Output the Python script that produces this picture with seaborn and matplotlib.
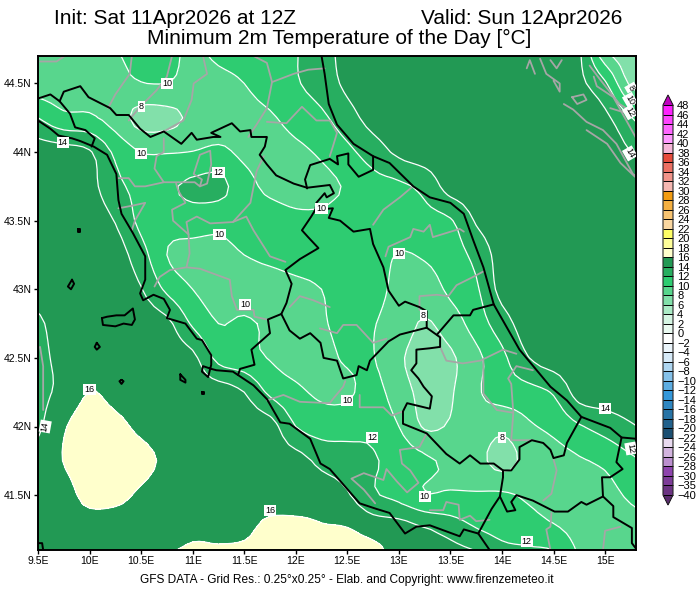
import numpy as np
import seaborn as sns
import matplotlib
matplotlib.use('Agg')
import matplotlib.pyplot as plt
from matplotlib.colors import ListedColormap, BoundaryNorm

# Grid of the field, 0.25 deg
lons = [9.5 + 0.25 * i for i in range(25)]
lats = [44.75 - 0.25 * j for j in range(16)]

t_4475 = [9.0,9.2,9.6,10.0,10.4,10.4,9.8,10.4,10.8,11.2,11.9,13.3,14.6,15,15,15,15,15,15,15,15,14.3,7.9,6.5,6.0]
t_4450 = [8.9,9.0,9.2,9.5,9.95,10.0,9.4,9.6,10.0,10.8,11.8,12.9,14.4,15,15,15,15,15,15,15,15,14.4,12.3,7.6,6.8]
t_4425 = [12.0,10.5,10.3,9.1,7.3,7.4,8.4,9.0,9.5,9.8,10.7,11.6,13.2,14.7,15,15,15,15,15,15,15,15,14.4,12.1,10]
t_4400 = [15,14.8,14.2,11.6,10.0,9.9,10.05,10.4,9.6,9.3,9.6,10.3,11.5,13.0,14.4,15,15,15,15,15,15,15,15,14,12.5]
t_4375 = [15,15,14.6,12.6,11.4,11.7,12.4,12.6,10.8,9.5,9.1,9.5,10.2,11.2,11.6,12.6,14.8,15,15,15,15,15,15,15,15]
t_4350 = [15,15,15,13.9,11.5,10.9,11,10.6,10.9,11,10.5,10.4,10.8,11,11,11.3,11.8,14.2,15,15,15,15,15,15,15]
t_4325 = [15,15,15,14.9,12.8,10,9.3,9.4,10,10.5,10.9,11,11,10.8,9.9,10.2,11,12.6,14.8,15,15,15,15,15,15]
t_4300 = [15,15,15,15,14.1,11.6,10,9.3,9,9,9.4,10,10.8,10.6,9.5,9.1,10.4,11.7,14.6,15,15,15,15,15,15]
t_4275 = [13.6,15,15,15,15,14.5,11.7,10,10.3,9.6,9.1,9.8,10.5,10.1,9.1,7.8,9,10.9,13.1,14.9,15,15,15,15,15]
t_4250 = [13.5,14.5,15,15,15,15,14.5,11.4,10.7,9.9,9.3,9.5,10.2,10.1,8.3,7.3,7.7,9.5,11.5,13.9,15,15,15,15,15]
t_4225 = [13.5,14.5,16.05,15.4,15,15,15,15,14,11.6,10.4,9.7,9.7,10.7,8.9,7.5,7.8,9.7,10.9,11.3,12.2,14.8,15,15,15]
t_4200 = [13.6,15.8,17,16.5,15.6,15,15,15,15,14.8,12,11.1,11.2,11.5,10,7.8,8.2,9.2,8.5,9.7,10.5,11.8,12.8,13.8,14.5]
t_4175 = [15,16.05,17,17,16.6,15.6,15,15,15,15,14.8,13.5,13,12.2,11.3,10.4,9.5,8.7,7.3,8.6,9.2,9.8,10.4,11.6,12.5]
t_4150 = [15,15.3,16.6,16.5,15.7,15,15,15,15,15,15,15,14.2,12.3,11.4,10.1,10.2,10.2,10.3,9.7,9.2,9.3,9.4,10.3,11]
t_4125 = [15,15,15,15,15,15.1,15.6,15.6,15.6,16.6,16.6,16.2,16.1,15.4,15,14.2,13.3,12.1,11.4,11,10.3,9.4,9,9.3,9.7]
t_4100 = [15,15,15,15.3,15.5,16.3,16.8,16.6,17,17,17,17,17,17,15.4,15.2,15.4,15.2,13.4,13.2,13.2,10,9,9.2,9.5]

# Colour scale
levels = [-40, -35, -30, -28, -26, -24, -22, -20, -18, -16, -14, -12, -10, -8, -6, -4, -2,
          0, 2, 4, 6, 8, 10, 12, 14, 16, 18, 20, 22, 24, 26, 28, 30, 32, 34, 36, 38, 40, 42, 44, 46, 48]
colors = ['#6c3483', '#7d3c98', '#8e44ad', '#bb8fce', '#d2b4de', '#e8daef', '#1b4f72', '#21618c',
          '#2874a6', '#2e86c1', '#3498db', '#5dade2', '#85c1e9', '#aed6f1', '#d6eaf8', '#ebf5fb',
          '#ffffff', '#eafaf1', '#d5f5e3', '#abebc6', '#82e0aa', '#58d68d', '#2ecc71', '#27ae60',
          '#229954', '#ffffcc', '#ffff99', '#ffff66', '#fad7a0', '#f8c471', '#f5b041', '#f39c12',
          '#f5b7b1', '#f1948a', '#ec7063', '#e74c3c', '#f5b7d8', '#ff99ff', '#ff66ff', '#ff44ff', '#ff22ff']
color_under = '#5b2c6f'
color_over = '#c000c0'

# Contour labels: text, lon, lat, rotation
contour_labels = [
    ('10', 10.75, 44.50, 0), ('8', 10.50, 44.33, 0), ('10', 10.50, 43.99, 0), ('14', 9.74, 44.07, 0),
    ('12', 11.25, 43.85, 0), ('10', 11.26, 43.40, 0), ('10', 11.51, 42.89, 0), ('10', 12.25, 43.59, 0),
    ('10', 13.0, 43.26, 0), ('16', 10.0, 42.27, 0), ('14', 9.57, 42.0, 80), ('10', 12.50, 42.19, 0),
    ('8', 13.24, 42.81, 0), ('12', 12.74, 41.92, 0), ('10', 13.25, 41.49, 0), ('8', 14.0, 41.92, 0),
    ('14', 15.0, 42.13, 0), ('12', 15.25, 41.84, -80), ('12', 14.24, 41.16, 0), ('16', 11.75, 41.39, 0),
    ('8', 15.25, 44.47, -60), ('10', 15.24, 44.38, -60), ('12', 15.24, 44.29, -60), ('14', 15.24, 43.99, -60),
]

# Coast and main borders
north_border = [(9.50,44.39),(9.62,44.42),(9.71,44.37),(9.75,44.44),(9.91,44.48),(9.99,44.40),(10.20,44.32),
    (10.26,44.27),(10.38,44.27),(10.49,44.17),(10.59,44.11),(10.72,44.15),(10.89,44.06),(10.99,44.14),
    (11.04,44.09),(11.20,44.11),(11.27,44.11),(11.18,44.14),(11.38,44.21),(11.46,44.15),(11.56,44.16),
    (11.57,44.11),(11.72,44.11),(11.70,44.04),(11.65,43.98),(11.72,43.91),(11.81,43.83),(11.98,43.77),
    (12.11,43.74),(12.33,43.76),(12.37,43.70),(12.30,43.67),(12.28,43.70),(12.20,43.63),(12.19,43.58),
    (12.15,43.53),(12.06,43.43),(12.12,43.38),(12.22,43.30),(12.04,43.22),(11.90,43.14),(11.96,43.04),
    (11.91,42.90),(11.86,42.82),(11.73,42.78),(11.75,42.68),(11.57,42.56),(11.60,42.45),(11.46,42.42),(11.44,42.375)]
umbria_east = [(12.19,43.58),(12.36,43.59),(12.32,43.52),(12.43,43.50),(12.56,43.42),(12.72,43.44),(12.75,43.33),
    (12.85,43.16),(12.90,42.99),(13.0,42.88),(13.06,42.91),(13.20,42.87),(13.27,42.84),(13.27,42.72)]
marche_north = [(12.75,43.97),(12.75,43.87),(12.61,43.82),(12.51,43.91),(12.51,43.99),(12.40,43.97),(12.41,43.91),
    (12.33,43.95),(12.14,43.905),(12.09,43.80),(12.11,43.735)]
east_coast = [(12.25,44.70),(12.28,44.57),(12.32,44.35),(12.40,44.20),(12.56,44.06),(12.75,43.97),(12.91,43.92),
    (13.14,43.75),(13.30,43.67),(13.50,43.63),(13.63,43.55),(13.72,43.36),(13.82,43.16),(13.92,42.89),
    (14.17,42.56),(14.47,42.29),(14.63,42.19),(14.77,42.07),(15.05,41.99),(15.16,41.92),(15.31,41.91)]
west_coast = [(9.50,44.23),(9.62,44.17),(9.70,44.12),(9.83,44.10),(9.91,44.08),(10.04,44.04),(10.17,43.98),
    (10.26,43.84),(10.28,43.65),(10.31,43.55),(10.42,43.41),(10.54,43.24),(10.54,43.07),(10.49,42.97),
    (10.52,42.92),(10.62,42.96),(10.72,42.93),(10.78,42.85),(10.75,42.79),(10.93,42.75),(11.04,42.64),
    (11.09,42.63),(11.18,42.52),(11.18,42.45),(11.15,42.36),(11.09,42.40),(11.10,42.44),(11.18,42.42),
    (11.23,42.41),(11.39,42.40),(11.59,42.30),(11.72,42.20),(11.85,42.03),(11.94,42.02),(12.14,41.91),
    (12.24,41.73),(12.33,41.69),(12.40,41.63),(12.62,41.44),(12.78,41.40),(12.91,41.37),(13.06,41.22),
    (13.17,41.27),(13.30,41.28),(13.59,41.20),(13.63,41.25),(13.77,41.22),(13.88,41.10)]
liguria_border = [(9.71,44.37),(9.81,44.28),(9.86,44.18),(9.96,44.16),(10.05,44.10),(10.02,44.04)]
lazio_border = [(11.86,42.82),(11.94,42.70),(12.04,42.64),(12.14,42.68),(12.24,42.61),(12.27,42.50),(12.40,42.48),
    (12.46,42.35),(12.59,42.375),(12.61,42.44),(12.69,42.41),(12.72,42.48),(12.90,42.62),(13.01,42.67),
    (13.27,42.72),(13.40,42.65),(13.40,42.58),(13.30,42.57),(13.17,42.56),(13.17,42.46),(13.12,42.41),
    (13.19,42.35),(13.24,42.29),(13.32,42.22),(13.30,42.13),(13.08,42.17),(13.04,42.11),(13.04,42.02),
    (13.27,41.95),(13.46,41.80),(13.59,41.73),(13.69,41.79),(13.79,41.73),(13.92,41.73),(14.01,41.68),
    (14.09,41.68),(14.17,41.76),(14.17,41.85),(14.29,41.90),(14.40,41.88),(14.47,41.83),(14.50,41.77),
    (14.60,41.79),(14.63,41.88),(14.77,42.07)]
abruzzo_north = [(13.37,42.67),(13.53,42.81),(13.69,42.81),(13.72,42.85),(13.92,42.89)]
campania_west = [(13.77,41.22),(13.90,41.40),(13.98,41.49),(14.01,41.63),(14.01,41.68)]
molise_south = [(13.98,41.49),(14.05,41.38),(14.13,41.39),(14.09,41.45),(14.14,41.50),(14.30,41.46),(14.51,41.38),
    (14.64,41.38),(14.77,41.45),(14.82,41.43),(14.98,41.49),(14.97,41.63),(15.05,41.63),(15.17,41.69),
    (15.11,41.74),(15.16,41.92)]
puglia_west = [(14.98,41.49),(15.08,41.42),(15.08,41.34),(15.26,41.26),(15.26,41.15),(15.31,41.10)]
sardinia_tip = [(9.50,41.15),(9.54,41.15),(9.55,41.10)]

# Islands
elba = [(10.12,42.79),(10.17,42.80),(10.26,42.81),(10.34,42.81),(10.42,42.86),(10.44,42.78),(10.41,42.74),
    (10.33,42.75),(10.25,42.73),(10.13,42.74),(10.12,42.79)]
pianosa = [(10.07,42.61),(10.10,42.58),(10.07,42.56),(10.05,42.58),(10.07,42.61)]
montecristo = [(10.31,42.34),(10.33,42.33),(10.31,42.31),(10.29,42.33),(10.31,42.34)]
giglio = [(10.88,42.38),(10.93,42.34),(10.93,42.32),(10.88,42.34),(10.88,42.38)]
giannutri = [(11.09,42.25),(11.11,42.25),(11.11,42.24),(11.09,42.24),(11.09,42.25)]
gorgona = [(9.89,43.44),(9.91,43.44),(9.91,43.42),(9.89,43.42),(9.89,43.44)]
capraia = [(9.83,43.07),(9.85,43.04),(9.82,43.00),(9.79,43.02),(9.83,43.07)]

# Province borders
g1 = [(9.52,44.66),(9.68,44.66),(9.76,44.70)]
g2 = [(10.41,44.70),(10.39,44.57),(10.25,44.42),(10.18,44.32)]
g3 = [(10.80,44.70),(10.75,44.55),(10.65,44.45),(10.49,44.33),(10.38,44.23)]
g4 = [(11.10,44.70),(11.14,44.57),(11.01,44.50),(10.99,44.38),(10.91,44.23),(10.72,44.15)]
g5 = [(11.59,44.70),(11.72,44.65),(11.77,44.51),(11.72,44.32),(11.62,44.20),(11.54,44.11)]
g6 = [(11.77,44.51),(11.98,44.57),(12.12,44.60),(12.28,44.61)]
g7 = [(11.72,44.22),(11.91,44.21),(12.06,44.33),(12.20,44.23),(12.33,44.23),(12.40,44.14),(12.36,44.04),(12.33,43.97)]
g8 = [(10.72,44.10),(10.72,44.00),(10.65,43.97),(10.63,43.88),(10.72,43.78),(10.54,43.75),(10.44,43.75),(10.38,43.81),(10.28,43.81)]
g9 = [(10.72,43.78),(10.84,43.78),(11.02,43.78),(11.07,43.75),(11.09,43.80),(11.01,43.84),(11.07,43.98),(11.17,44.01),(11.18,43.91),(11.14,43.77),(11.07,43.75)]
g10 = [(10.84,43.77),(10.86,43.72),(10.93,43.63),(10.80,43.58),(10.81,43.50),(10.96,43.40),(10.97,43.26),(10.94,43.16),(10.78,43.14),(10.68,43.09),(10.63,43.02)]
g11 = [(10.96,43.40),(10.94,43.49),(11.04,43.53),(11.17,43.48),(11.39,43.49),(11.52,43.53),(11.59,43.43),(11.75,43.24),(11.90,43.20)]
g12 = [(11.39,43.49),(11.56,43.63),(11.62,43.86),(11.69,43.97)]
g13 = [(10.28,43.59),(10.42,43.61),(10.54,43.63),(10.44,43.50),(10.41,43.43)]
g14 = [(10.94,43.16),(11.07,43.15),(11.36,43.07),(11.38,42.95),(11.43,42.85),(11.59,42.85),(11.60,42.80),(11.72,42.78)]
g15 = [(11.94,42.87),(12.04,42.95),(12.17,42.92),(12.33,42.87)]
g15b = [(12.235,42.715),(12.40,42.68),(12.46,42.74),(12.59,42.74),(12.75,42.61),(12.88,42.64)]
g16 = [(11.72,42.19),(11.88,42.23),(12.04,42.18),(12.33,42.17),(12.36,42.20),(12.46,42.29),(12.48,42.33)]
g16b = [(12.62,42.23),(12.62,42.14),(12.85,42.14),(12.93,42.08),(13.04,42.11)]
g17 = [(12.75,43.47),(12.85,43.58),(13.01,43.67),(13.12,43.74)]
g18 = [(12.87,43.24),(12.90,43.31),(13.11,43.38),(13.14,43.44),(13.24,43.42),(13.30,43.47),(13.33,43.38),(13.59,43.44),(13.63,43.42)]
g19 = [(13.20,42.85),(13.20,42.95),(13.37,42.96),(13.48,42.95),(13.56,43.03),(13.72,43.09),(13.82,43.13)]
g20 = [(13.40,42.58),(13.46,42.48),(13.62,42.46),(13.79,42.48),(14.01,42.56),(14.14,42.53)]
g21 = [(13.82,42.48),(13.82,42.24),(13.95,42.12),(14.11,42.10),(14.09,42.31),(14.06,42.35),(14.14,42.44),(14.30,42.41)]
g22 = [(14.11,42.10),(14.09,41.90),(14.30,41.90)]
g23 = [(14.50,41.76),(14.53,41.68),(14.48,41.51),(14.40,41.46)]
g24 = [(14.48,41.37),(14.47,41.27),(14.43,41.25),(14.47,41.10)]
g25 = [(14.98,41.10),(15.0,41.24),(15.15,41.27)]
g26 = [(13.27,41.95),(13.20,41.85),(13.01,41.83),(13.03,41.73),(13.11,41.68),(13.19,41.59),(13.08,41.52),(12.98,41.60),
    (12.88,41.69),(12.85,41.61),(12.66,41.66),(12.54,41.62),(12.66,41.54),(12.77,41.44)]
g27 = [(13.30,41.39),(13.43,41.39),(13.46,41.45),(13.58,41.43),(13.59,41.32),(13.69,41.35),(13.75,41.31),(13.88,41.32)]
corsica = [(9.52,42.58),(9.55,42.44),(9.55,42.12)]

# Croatian coast and islands
c1 = [(14.24,44.61),(14.27,44.67),(14.32,44.57)]
c2 = [(14.37,44.68),(14.43,44.57),(14.56,44.50),(14.56,44.44),(14.50,44.52)]
c3 = [(14.47,44.67),(14.53,44.61),(14.58,44.67)]
c4 = [(14.60,44.35),(14.69,44.31),(14.82,44.22),(14.98,44.16),(15.11,44.06),(15.27,43.84),(15.31,43.82)]
c5 = [(14.82,44.16),(15.02,44.06),(15.15,43.92),(15.29,43.82)]
c6 = [(14.68,44.40),(14.73,44.35),(14.82,44.38),(14.79,44.42),(14.68,44.40)]
c7 = [(14.85,44.63),(14.95,44.53),(15.14,44.35),(15.29,44.28)]
c8 = [(14.89,44.55),(14.92,44.48),(15.08,44.40),(15.31,44.09)]
c9 = [(15.05,44.32),(15.18,44.29)]

black_lines = [north_border, umbria_east, marche_north, east_coast, west_coast, liguria_border, lazio_border,
               abruzzo_north, campania_west, molise_south, puglia_west, sardinia_tip,
               elba, pianosa, montecristo, giglio, giannutri, gorgona, capraia]
gray_lines = [g1, g2, g3, g4, g5, g6, g7, g8, g9, g10, g11, g12, g13, g14, g15, g15b, g16, g16b, g17, g18, g19,
              g20, g21, g22, g23, g24, g25, g26, g27, corsica, c1, c2, c3, c4, c5, c6, c7, c8, c9]

sns.set_style('white')
plt.rcParams['font.family'] = ['Liberation Sans', 'DejaVu Sans']
plt.rcParams['text.color'] = 'black'
plt.rcParams['xtick.color'] = 'black'
plt.rcParams['ytick.color'] = 'black'


def smooth_axis(values, axis, factor=4):
    # Catmull-Rom between grid nodes, same idea as the cubic smoothing of the original map
    a = np.moveaxis(values, axis, 0)
    a = np.concatenate([2 * a[:1] - a[1:2], a, 2 * a[-1:] - a[-2:-1]])
    out = []
    for i in range(1, len(a) - 2):
        for k in range(factor):
            s = k / factor
            out.append(0.5 * (2 * a[i] + (a[i + 1] - a[i - 1]) * s
                              + (2 * a[i - 1] - 5 * a[i] + 4 * a[i + 1] - a[i + 2]) * s ** 2
                              + (3 * a[i] - a[i - 1] - 3 * a[i + 1] + a[i + 2]) * s ** 3))
    out.append(a[-2])
    return np.moveaxis(np.array(out), 0, axis)


temp = np.array([t_4475, t_4450, t_4425, t_4400, t_4375, t_4350, t_4325, t_4300,
                 t_4275, t_4250, t_4225, t_4200, t_4175, t_4150, t_4125, t_4100])[::-1]
fine_temp = smooth_axis(smooth_axis(temp, 0), 1)
fine_lat = np.linspace(lats[-1], lats[0], fine_temp.shape[0])
fine_lon = np.linspace(lons[0], lons[-1], fine_temp.shape[1])

cmap = ListedColormap(sns.color_palette(colors))
cmap.set_under(color_under)
cmap.set_over(color_over)
norm = BoundaryNorm(levels, cmap.N)

fig = plt.figure(figsize=(7, 6), dpi=100)
ax = fig.add_axes([38 / 700, 50 / 600, 598 / 700, 494 / 600])

cf = ax.contourf(fine_lon, fine_lat, fine_temp, levels=levels, cmap=cmap, norm=norm, extend='both')
ax.contour(fine_lon, fine_lat, fine_temp, levels=[8, 10, 12, 14, 16], colors='white', linewidths=0.9)


def draw_line(points, color, width):
    x = [p[0] for p in points]
    y = [p[1] for p in points]
    sns.lineplot(x=x, y=y, sort=False, estimator=None, color=color, linewidth=width, ax=ax)


for line in gray_lines:
    draw_line(line, '#a6a6a6', 1.3)
for line in black_lines:
    draw_line(line, 'black', 1.4)

for text, lon, lat, rot in contour_labels:
    ax.text(lon, lat, text, ha='center', va='center', rotation=rot, fontsize=6.5, color='black', clip_on=True,
            bbox=dict(facecolor='white', edgecolor='none', pad=0.8), zorder=5)

ax.set_xlim(9.5, 15.3)
ax.set_ylim(41.1, 44.7)
ax.set_xticks([9.5, 10, 10.5, 11, 11.5, 12, 12.5, 13, 13.5, 14, 14.5, 15])
ax.set_xticklabels(['9.5E', '10E', '10.5E', '11E', '11.5E', '12E', '12.5E', '13E', '13.5E', '14E', '14.5E', '15E'])
ax.set_yticks([41.5, 42, 42.5, 43, 43.5, 44, 44.5])
ax.set_yticklabels(['41.5N', '42N', '42.5N', '43N', '43.5N', '44N', '44.5N'])
ax.tick_params(axis='both', length=3, width=1, color='black', labelsize=7.5, pad=1.5, bottom=True, left=True)
for spine in ax.spines.values():
    spine.set_linewidth(1.4)
    spine.set_color('black')

cax = fig.add_axes([663 / 700, 95 / 600, 10 / 700, 410 / 600])
cb = fig.colorbar(cf, cax=cax, ticks=levels, spacing='uniform', drawedges=True, extendfrac=10 / 390)
cb.dividers.set_color('black')
cb.dividers.set_linewidth(0.7)
cb.outline.set_linewidth(0.8)
cb.ax.tick_params(length=0, pad=3, labelsize=8)

fig.text(54 / 700, 1 - 18 / 600, 'Init: Sat 11Apr2026 at 12Z', fontsize=15, ha='left', va='center')
fig.text(421 / 700, 1 - 18 / 600, 'Valid: Sun 12Apr2026', fontsize=15, ha='left', va='center')
fig.text(339 / 700, 1 - 38 / 600, 'Minimum 2m Temperature of the Day [°C]', fontsize=15, ha='center', va='center')
fig.text(347 / 700, 1 - 580 / 600, 'GFS DATA - Grid Res.: 0.25°x0.25° - Elab. and Copyright: www.firenzemeteo.it',
         fontsize=8.6, ha='center', va='center')

fig.savefig('out.png', dpi=100)
